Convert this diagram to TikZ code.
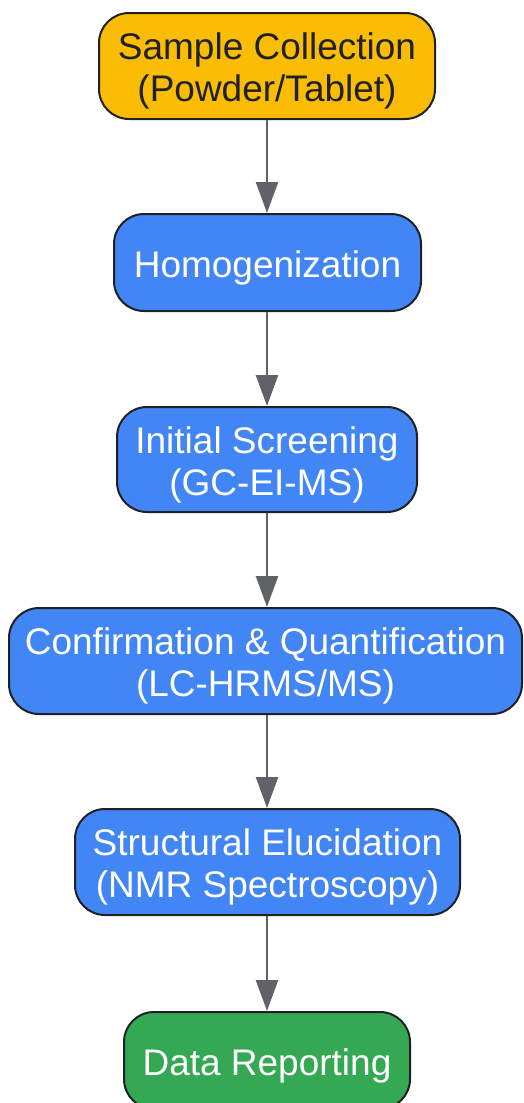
\documentclass[tikz,border=0pt]{standalone}
\usepackage{fontspec}
\setmainfont{Liberation Sans}
\usetikzlibrary{arrows.meta}
\definecolor{cOrange}{HTML}{FBBC05}
\definecolor{cBlue}{HTML}{4285F4}
\definecolor{cGreen}{HTML}{34A853}
\definecolor{cStroke}{HTML}{202124}
\definecolor{cArrow}{HTML}{5F6368}
\tikzset{
  box/.style={draw=cStroke, line width=2pt, rounded corners=30pt, inner sep=0pt},
  orangebox/.style={box, fill=cOrange},
  bluebox/.style={box, fill=cBlue},
  greenbox/.style={box, fill=cGreen},
  boxtext/.style={align=center, inner sep=0pt, font=\fontsize{37}{42}\selectfont, yshift=-5pt},
  darktext/.style={boxtext, text=cStroke},
  lighttext/.style={boxtext, text=white},
  flow/.style={draw=cArrow, line width=2.5pt, -{Triangle[length=31pt,width=22pt]}}
}
\begin{document}
\begin{tikzpicture}[x=1pt,y=-1pt]
\useasboundingbox (0,0) rectangle (523,1103);
\node[orangebox, minimum width=336pt, minimum height=106pt] (n1) at (267,66) {};
\node[darktext] (t1) at (n1.center) {Sample Collection\\(Powder/Tablet)};
\node[bluebox, minimum width=307pt, minimum height=97pt] (n2) at (267.5,262.5) {};
\node[lighttext] (t2) at (n2.center) {Homogenization};
\node[bluebox, minimum width=300pt, minimum height=105pt] (n3) at (267,459.5) {};
\node[lighttext] (t3) at (n3.center) {Initial Screening\\(GC-EI-MS)};
\node[bluebox, minimum width=513pt, minimum height=106pt] (n4) at (265.5,661) {};
\node[lighttext] (t4) at (n4.center) {Confirmation \& Quantification\\(LC-HRMS/MS)};
\node[bluebox, minimum width=385pt, minimum height=106pt] (n5) at (267.5,862) {};
\node[lighttext] (t5) at (n5.center) {Structural Elucidation\\(NMR Spectroscopy)};
\node[greenbox, minimum width=286pt, minimum height=97pt] (n6) at (267,1060.5) {};
\node[lighttext] (t6) at (n6.center) {Data Reporting};
\draw[flow] (n1.south -| 267,0) -- (n2.north -| 267,0);
\draw[flow] (n2.south -| 267,0) -- (n3.north -| 267,0);
\draw[flow] (n3.south -| 267,0) -- (n4.north -| 267,0);
\draw[flow] (n4.south -| 267,0) -- (n5.north -| 267,0);
\draw[flow] (n5.south -| 267,0) -- (n6.north -| 267,0);
\end{tikzpicture}
\end{document}
